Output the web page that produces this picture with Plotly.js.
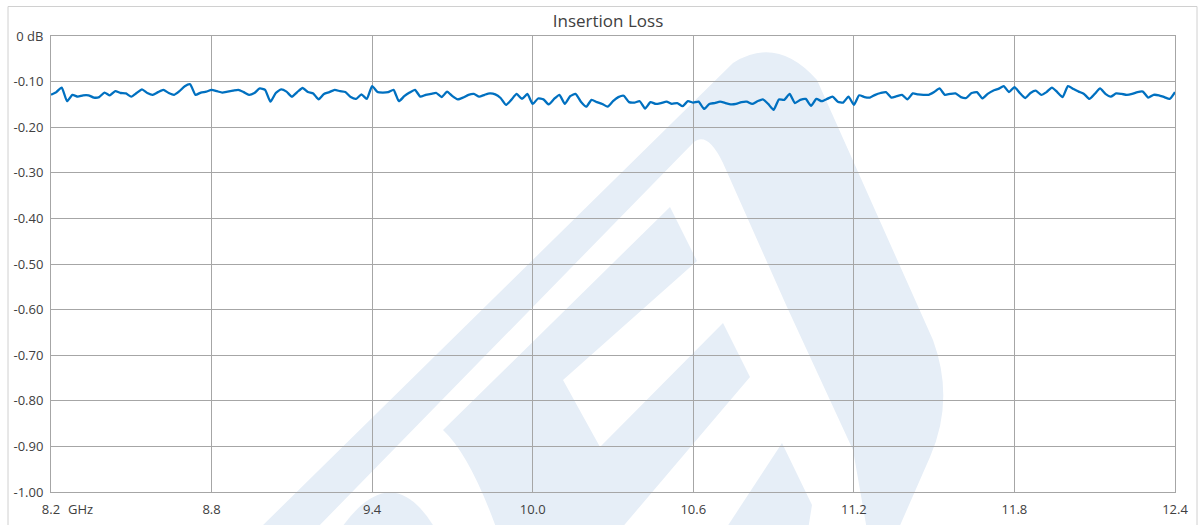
<!DOCTYPE html>
<html>
<head>
<meta charset="utf-8">
<script src="https://cdn.plot.ly/plotly-3.0.1.min.js"></script>
<style>html,body{margin:0;padding:0;background:#fff;}#chart{width:1203px;height:525px;}</style>
</head>
<body>
<div id="chart"></div>
<script>
// ---- data ----
const chartTitle = "Insertion Loss";
const xUnit = "GHz";
const freqGHz = [
 8.20,8.22,8.24,8.26,8.28,8.30,8.32,8.34,8.36,8.38,
 8.40,8.42,8.44,8.46,8.48,8.50,8.52,8.54,8.56,8.58,
 8.60,8.62,8.64,8.66,8.68,8.70,8.72,8.74,8.76,8.78,
 8.80,8.82,8.84,8.86,8.88,8.90,8.92,8.94,8.96,8.98,
 9.00,9.02,9.04,9.06,9.08,9.10,9.12,9.14,9.16,9.18,
 9.20,9.22,9.24,9.26,9.28,9.30,9.32,9.34,9.36,9.38,
 9.40,9.42,9.44,9.46,9.48,9.50,9.52,9.54,9.56,9.58,
 9.60,9.62,9.64,9.66,9.68,9.70,9.72,9.74,9.76,9.78,
 9.80,9.82,9.84,9.86,9.88,9.90,9.92,9.94,9.96,9.98,
 10.00,10.02,10.04,10.06,10.08,10.10,10.12,10.14,10.16,10.18,
 10.20,10.22,10.24,10.26,10.28,10.30,10.32,10.34,10.36,10.38,
 10.40,10.42,10.44,10.46,10.48,10.50,10.52,10.54,10.56,10.58,
 10.60,10.62,10.64,10.66,10.68,10.70,10.72,10.74,10.76,10.78,
 10.80,10.82,10.84,10.86,10.88,10.90,10.92,10.94,10.96,10.98,
 11.00,11.02,11.04,11.06,11.08,11.10,11.12,11.14,11.16,11.18,
 11.20,11.22,11.24,11.26,11.28,11.30,11.32,11.34,11.36,11.38,
 11.40,11.42,11.44,11.46,11.48,11.50,11.52,11.54,11.56,11.58,
 11.60,11.62,11.64,11.66,11.68,11.70,11.72,11.74,11.76,11.78,
 11.80,11.82,11.84,11.86,11.88,11.90,11.92,11.94,11.96,11.98,
 12.00,12.02,12.04,12.06,12.08,12.10,12.12,12.14,12.16,12.18,
 12.20,12.22,12.24,12.26,12.28,12.30,12.32,12.34,12.36,12.38,
 12.40
];
const lossDb = [
 -0.129,-0.123,-0.113,-0.143,-0.129,-0.133,-0.130,-0.130,-0.135,-0.134,
 -0.124,-0.130,-0.121,-0.125,-0.126,-0.133,-0.125,-0.117,-0.125,-0.129,
 -0.123,-0.118,-0.125,-0.129,-0.121,-0.110,-0.106,-0.129,-0.124,-0.122,
 -0.118,-0.121,-0.124,-0.122,-0.120,-0.118,-0.123,-0.129,-0.125,-0.115,
 -0.118,-0.144,-0.125,-0.117,-0.122,-0.133,-0.123,-0.114,-0.123,-0.126,
 -0.139,-0.127,-0.123,-0.118,-0.121,-0.123,-0.134,-0.138,-0.128,-0.138,
 -0.110,-0.123,-0.124,-0.123,-0.118,-0.143,-0.132,-0.124,-0.118,-0.133,
 -0.129,-0.127,-0.125,-0.134,-0.122,-0.132,-0.139,-0.135,-0.129,-0.127,
 -0.133,-0.129,-0.126,-0.128,-0.136,-0.151,-0.140,-0.127,-0.138,-0.127,
 -0.149,-0.137,-0.139,-0.150,-0.138,-0.129,-0.149,-0.132,-0.127,-0.144,
 -0.155,-0.140,-0.145,-0.149,-0.155,-0.143,-0.134,-0.131,-0.145,-0.146,
 -0.143,-0.159,-0.145,-0.149,-0.147,-0.144,-0.149,-0.147,-0.154,-0.143,
 -0.146,-0.144,-0.160,-0.149,-0.147,-0.144,-0.147,-0.150,-0.149,-0.145,
 -0.144,-0.149,-0.143,-0.139,-0.149,-0.162,-0.139,-0.140,-0.127,-0.147,
 -0.140,-0.138,-0.153,-0.138,-0.143,-0.138,-0.133,-0.144,-0.146,-0.133,
 -0.151,-0.130,-0.134,-0.135,-0.129,-0.125,-0.123,-0.135,-0.132,-0.129,
 -0.139,-0.126,-0.128,-0.129,-0.129,-0.123,-0.115,-0.129,-0.127,-0.126,
 -0.134,-0.136,-0.125,-0.123,-0.137,-0.127,-0.120,-0.116,-0.110,-0.123,
 -0.112,-0.125,-0.136,-0.125,-0.120,-0.129,-0.123,-0.113,-0.123,-0.134,
 -0.110,-0.116,-0.122,-0.127,-0.138,-0.127,-0.115,-0.127,-0.133,-0.126,
 -0.127,-0.129,-0.127,-0.123,-0.122,-0.135,-0.129,-0.130,-0.134,-0.138,
 -0.123
];
const xTickVals = [8.2, 8.8, 9.4, 10.0, 10.6, 11.2, 11.8, 12.4];
const xTickText = ["8.2", "8.8", "9.4", "10.0", "10.6", "11.2", "11.8", "12.4"];
const yTickVals = [0, -0.1, -0.2, -0.3, -0.4, -0.5, -0.6, -0.7, -0.8, -0.9, -1.0];
const yTickText = ["0 dB", "-0.10", "-0.20", "-0.30", "-0.40", "-0.50", "-0.60", "-0.70", "-0.80", "-0.90", "-1.00"];

// ---- layout geometry (pixels) ----
const W = 1203, H = 525;
const PL = 51, PR = 1175, PT = 36, PB = 492;
function px(x) { return (x - PL) / (PR - PL); }
function py(y) { return (PB - y) / (PB - PT); }
function path(pts) {
  return pts.map(function (p) {
    if (p.length === 3) return p[0] + px(p[1]) + ',' + py(p[2]);
    return p[0] + px(p[1]) + ',' + py(p[2]) + ' ' + px(p[3]) + ',' + py(p[4]);
  }).join(' ') + ' Z';
}
const wm = 'rgb(230,238,247)';
function wmShape(d) {
  return {type: 'path', xref: 'paper', yref: 'paper', layer: 'below', path: d,
          fillcolor: wm, line: {width: 0}};
}
const shapes = [
  // outer chart border
  {type: 'rect', xref: 'paper', yref: 'paper', layer: 'below',
   x0: px(8), x1: px(1197), y0: py(540), y1: py(6.5),
   line: {color: '#d0d0d0', width: 1}, fillcolor: 'rgba(0,0,0,0)'},
  // watermark: arch
  wmShape(path([
    ['M', 258, 530], ['L', 733, 63], ['Q', 777, 35, 817, 80], ['L', 933, 340],
    ['Q', 955, 400, 930, 457], ['L', 898, 530], ['L', 867, 530], ['L', 853, 450],
    ['L', 787, 307], ['L', 723, 163], ['Q', 707, 130, 693, 143], ['L', 315, 530]
  ])),
  // watermark: inner bars
  wmShape(path([
    ['M', 670, 207], ['L', 697, 261], ['L', 563, 380], ['L', 600, 447], ['L', 723, 323],
    ['L', 750, 377], ['L', 620, 530], ['L', 497, 530], ['Q', 470, 455, 443, 430]
  ])),
  wmShape(path([['M', 782, 443], ['L', 812, 505], ['L', 808, 530], ['L', 725, 530]])),
  wmShape(path([['M', 340, 530], ['Q', 392, 455, 436, 530]]))
];

const textColor = '#404040';
const gridColor = '#a6a6a6';
const font = 'Open Sans, Noto Sans, sans-serif';

const trace = {
  type: 'scatter', mode: 'lines', x: freqGHz, y: lossDb,
  line: {color: '#0070C0', width: 2.3, shape: 'spline', smoothing: 0.5},
  hoverinfo: 'x+y', showlegend: false
};

const layout = {
  width: W, height: H,
  margin: {l: PL, r: W - PR, t: PT, b: H - PB, pad: 0},
  paper_bgcolor: '#ffffff', plot_bgcolor: 'rgba(0,0,0,0)',
  font: {family: font, size: 13, color: textColor},
  title: {text: chartTitle, font: {family: font, size: 17, color: textColor},
          xref: 'container', yref: 'container', x: 608 / W, y: 1 - 21 / H,
          xanchor: 'center', yanchor: 'middle'},
  xaxis: {range: [8.2, 12.4], tickvals: xTickVals, ticktext: xTickText,
          showgrid: true, gridcolor: gridColor, gridwidth: 1,
          showline: true, linecolor: gridColor, linewidth: 1, mirror: true,
          zeroline: false, ticks: '', ticklabelstandoff: 5,
          tickfont: {family: font, size: 13, color: textColor}},
  yaxis: {range: [-1, 0], tickvals: yTickVals, ticktext: yTickText,
          showgrid: true, gridcolor: gridColor, gridwidth: 1,
          showline: true, linecolor: gridColor, linewidth: 1, mirror: true,
          zeroline: false, ticks: '', ticklabelstandoff: 4,
          tickfont: {family: font, size: 13, color: textColor}},
  shapes: shapes,
  annotations: [{text: xUnit, xref: 'paper', yref: 'paper', x: px(80), y: py(509),
                 xanchor: 'center', yanchor: 'middle', showarrow: false,
                 font: {family: font, size: 13, color: textColor}}]
};

Plotly.newPlot('chart', [trace], layout, {staticPlot: true, displayModeBar: false});
</script>
</body>
</html>
